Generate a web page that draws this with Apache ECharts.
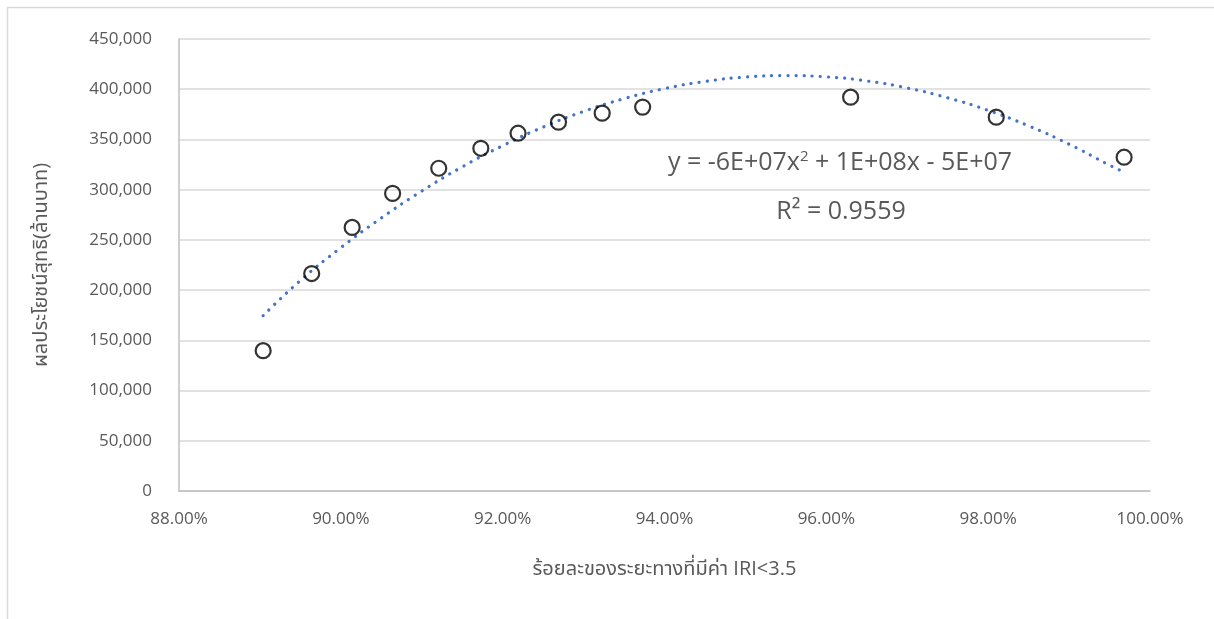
<!DOCTYPE html>
<html>
<head>
<meta charset="utf-8">
<script src="https://cdn.jsdelivr.net/npm/echarts@6/dist/echarts.min.js"></script>
<style>
html,body{margin:0;padding:0;background:#fff;}
#chart{width:1214px;height:619px;}
</style>
</head>
<body>
<div id="chart"></div>
<script>
// Observed data points: x = share of road length with IRI<3.5 (%), y = net benefit (million baht)
const xPct = [89.04, 89.64, 90.14, 90.64, 91.21, 91.73, 92.19, 92.69, 93.23, 93.73, 96.30, 98.10, 99.68];
const yBenefit = [139700, 216500, 262400, 296300, 321300, 341200, 356200, 367200, 376200, 382200, 392100, 372200, 332300];

// Trendline points (polynomial trendline, order 2)
const trendX = [89.04, 89.5, 90.0, 90.5, 91.0, 91.5, 92.0, 92.5, 93.0, 93.5, 94.0, 94.5, 95.0, 95.5, 96.0, 96.5, 97.0, 97.5, 98.0, 98.5, 99.0, 99.5, 99.68];
const trendY = [174600, 209600, 242200, 271800, 298600, 322700, 343800, 362300, 377900, 390600, 400600, 407700, 412100, 413600, 412300, 408200, 401200, 391400, 378900, 363500, 345300, 324400, 317500];

const xTicks = { min: 88, max: 100, interval: 2 };
const yTicks = { min: 0, max: 450000, interval: 50000 };

const xTitle = 'ร้อยละของระยะทางที่มีค่า IRI<3.5';
const yTitle = 'ผลประโยชน์สุทธิ(ล้านบาท)';
const eqText = 'y = -6E+07x{sup|2} + 1E+08x - 5E+07';
const r2Text = 'R² = 0.9559';

const FONT = "'Open Sans', 'Noto Sans', 'Noto Sans Thai', sans-serif";
const GRAY = '#595959';

const chart = echarts.init(document.getElementById('chart'), null, { renderer: 'canvas' });
chart.setOption({
  animation: false,
  backgroundColor: '#fff',
  textStyle: { fontFamily: FONT },
  grid: { left: 179, right: 64, top: 39, bottom: 128, containLabel: false },
  xAxis: {
    type: 'value',
    min: xTicks.min, max: xTicks.max, interval: xTicks.interval,
    name: xTitle,
    nameLocation: 'middle',
    nameGap: 68,
    nameTextStyle: { color: GRAY, fontSize: 20, fontFamily: FONT },
    axisLine: { show: true, lineStyle: { color: '#bfbfbf', width: 1.5 } },
    axisTick: { show: false },
    splitLine: { show: false },
    axisLabel: {
      color: GRAY, fontSize: 17, margin: 20, fontFamily: FONT,
      formatter: v => v.toFixed(2) + '%'
    }
  },
  yAxis: {
    type: 'value',
    min: yTicks.min, max: yTicks.max, interval: yTicks.interval,
    name: yTitle,
    nameLocation: 'middle',
    nameGap: 128,
    nameRotate: 90,
    nameTextStyle: { color: GRAY, fontSize: 20, fontFamily: FONT },
    axisLine: { show: true, lineStyle: { color: '#bfbfbf', width: 1.5 } },
    axisTick: { show: false },
    splitLine: { show: true, lineStyle: { color: '#d9d9d9', width: 1.5 } },
    axisLabel: {
      color: GRAY, fontSize: 17, margin: 27, fontFamily: FONT,
      formatter: v => v.toLocaleString('en-US')
    }
  },
  series: [
    {
      type: 'line',
      data: trendX.map((x, i) => [x, trendY[i]]),
      smooth: true,
      showSymbol: false,
      symbol: 'none',
      lineStyle: { color: '#4472C4', width: 3.2, type: [0.1, 8], cap: 'round' },
      z: 2
    },
    {
      type: 'scatter',
      data: xPct.map((x, i) => [x, yBenefit[i]]),
      symbol: 'circle',
      symbolSize: 15,
      itemStyle: { color: 'rgba(0,0,0,0)', borderColor: '#000', borderWidth: 2.2 },
      z: 3
    }
  ],
  graphic: [
    {
      type: 'rect',
      shape: { x: 7.5, y: 7.5, width: 1220, height: 640 },
      style: { fill: null, stroke: '#d9d9d9', lineWidth: 1.5 },
      silent: true
    },
    {
      type: 'text',
      x: 840, y: 163,
      style: {
        text: eqText,
        align: 'center', verticalAlign: 'middle',
        fill: GRAY, fontSize: 25, fontFamily: FONT,
        rich: { sup: { fontSize: 15, verticalAlign: 'top', padding: [0, 0, 12, 0], fill: GRAY, fontFamily: FONT } }
      }
    },
    {
      type: 'text',
      x: 841, y: 212,
      style: {
        text: r2Text,
        align: 'center', verticalAlign: 'middle',
        fill: GRAY, fontSize: 25, fontFamily: FONT
      }
    }
  ]
});
</script>
</body>
</html>
